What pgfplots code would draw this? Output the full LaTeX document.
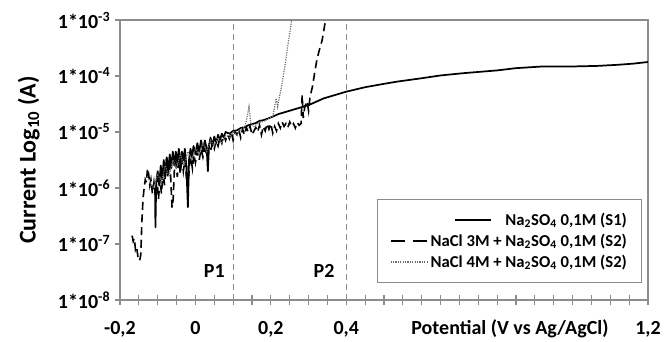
\documentclass[border=0pt]{standalone}
\usepackage{fontspec}
\setmainfont{Carlito}
\usepackage{pgfplots}
\pgfplotsset{compat=1.18}
\definecolor{axgray}{HTML}{8C8C8C}
\definecolor{dotgray}{HTML}{6E6E6E}
\begin{document}
\begin{tikzpicture}
\useasboundingbox (-90pt,-31.5pt) rectangle (408pt,225pt);
\begin{axis}[
 at={(0pt,0pt)}, anchor=south west,
 scale only axis, width=396pt, height=210pt,
 xmin=-0.2, xmax=1.2, ymin=-8, ymax=-3,
 clip=false,
 axis line style={axgray, line width=0.8pt},
 xtick={-0.2,0,0.2,0.4,0.6,0.8,1.0,1.2},
 xticklabels={{-0,2},{0},{0,2},{0,4},{},{},{},{1,2}},
 minor x tick num=3,
 xtick pos=bottom, ytick pos=left,
 tick align=center,
 major tick length=7.5pt, minor tick length=7.5pt,
 every tick/.style={axgray, line width=0.8pt},
 ytick=\empty,
 extra y ticks={-8,-7,-6,-5,-4,-3},
 extra y tick labels={{1*10\textsuperscript{-8}},{1*10\textsuperscript{-7}},{1*10\textsuperscript{-6}},{1*10\textsuperscript{-5}},{1*10\textsuperscript{-4}},{1*10\textsuperscript{-3}}},
 extra y tick style={tick align=outside, major tick length=3.75pt},
 ticklabel style={font=\fontsize{15}{18}\selectfont\bfseries},
 xticklabel style={anchor=base, yshift=-22.5pt},
 ylabel={Current Log\textsubscript{10} (A)},
 ylabel style={font=\fontsize{18}{21}\selectfont\bfseries, yshift=3pt},
 legend style={at={(rel axis cs:0.9886,0.3607)}, anchor=north east,
   draw=axgray, line width=0.6pt, inner xsep=9pt, inner ysep=8pt,
   font=\fontsize{12.5}{15}\selectfont\bfseries, row sep=1pt},
 legend cell align=right,
 legend image code/.code={\draw[#1] (0pt,0pt) -- (27.5pt,0pt);},
]
% reference vertical lines
\addplot[axgray, line width=0.8pt, dash pattern=on 4.5pt off 3pt, forget plot] coordinates {(0.1,-8) (0.1,-3)};
\addplot[axgray, line width=0.8pt, dash pattern=on 4.5pt off 3pt, forget plot] coordinates {(0.4,-8) (0.4,-3)};

% S1: Na2SO4 0,1M (log10 of current)
\addplot[black, line width=1.3pt, line join=round,
  legend image post style={xshift=48pt, overlay}] coordinates {
(-0.107,-6.0) (-0.106,-6.7) (-0.104,-5.9) (-0.100,-5.7) (-0.096,-5.95) (-0.092,-5.6)
(-0.088,-5.85) (-0.084,-5.5) (-0.080,-5.8) (-0.076,-5.45) (-0.072,-5.75) (-0.068,-5.4)
(-0.064,-5.65) (-0.060,-5.35) (-0.056,-5.6) (-0.052,-5.35) (-0.048,-5.55) (-0.044,-5.3)
(-0.040,-5.6) (-0.036,-5.35) (-0.032,-5.5) (-0.028,-5.3) (-0.024,-5.6) (-0.020,-6.34)
(-0.017,-5.5) (-0.013,-5.3) (-0.009,-5.45) (-0.005,-5.25) (0.000,-5.4) (0.005,-5.2)
(0.010,-5.35) (0.015,-5.15) (0.020,-5.35) (0.025,-5.15) (0.030,-5.3) (0.033,-5.7)
(0.036,-5.25) (0.040,-5.1) (0.045,-5.25) (0.050,-5.08) (0.055,-5.2) (0.060,-5.05)
(0.065,-5.15) (0.070,-5.03) (0.075,-5.1) (0.080,-5.0) (0.090,-5.03) (0.100,-4.98)
(0.110,-4.97) (0.120,-4.93) (0.130,-4.92) (0.140,-4.88) (0.150,-4.86) (0.160,-4.84)
(0.170,-4.80) (0.180,-4.79) (0.200,-4.74) (0.220,-4.68) (0.240,-4.64) (0.260,-4.60)
(0.280,-4.56) (0.300,-4.52) (0.320,-4.46) (0.340,-4.40) (0.360,-4.36) (0.380,-4.32)
(0.400,-4.28) (0.450,-4.20) (0.500,-4.14) (0.535,-4.10) (0.600,-4.04) (0.650,-3.99)
(0.710,-3.95) (0.800,-3.90) (0.850,-3.86) (0.920,-3.83) (1.000,-3.83) (1.065,-3.82)
(1.120,-3.80) (1.160,-3.78) (1.200,-3.75)
};
\addlegendentry{Na\textsubscript{2}SO\textsubscript{4} 0,1M (S1)}

% S2: NaCl 3M + Na2SO4 0,1M
\addplot[black, line width=1.2pt, dash pattern=on 6pt off 3.5pt,
  legend image post style={dash pattern=on 11pt off 5.5pt}] coordinates {
(-0.168,-6.85) (-0.165,-6.95) (-0.162,-6.9) (-0.159,-7.1) (-0.156,-7.05) (-0.152,-7.25)
(-0.148,-7.3) (-0.145,-7.2) (-0.142,-6.6) (-0.139,-6.2) (-0.136,-6.0) (-0.133,-5.85)
(-0.130,-5.9) (-0.127,-5.65) (-0.124,-5.75) (-0.121,-5.95) (-0.118,-5.85) (-0.114,-6.1)
(-0.110,-5.9) (-0.106,-6.15) (-0.102,-5.8) (-0.098,-6.2) (-0.094,-5.85) (-0.090,-6.1)
(-0.086,-5.7) (-0.082,-5.95) (-0.078,-5.6) (-0.074,-5.8) (-0.070,-5.55) (-0.066,-5.75)
(-0.062,-6.35) (-0.059,-6.2) (-0.056,-5.7) (-0.052,-5.55) (-0.048,-5.8) (-0.044,-5.5)
(-0.040,-5.75) (-0.036,-5.45) (-0.032,-5.7) (-0.028,-5.5) (-0.024,-5.8) (-0.020,-6.0)
(-0.016,-5.6) (-0.012,-5.45) (-0.008,-5.65) (-0.004,-5.4) (0.000,-5.55) (0.005,-5.35)
(0.010,-5.5) (0.015,-5.3) (0.020,-5.45) (0.025,-5.3) (0.030,-5.4) (0.035,-5.25)
(0.040,-5.35) (0.045,-5.2) (0.050,-5.3) (0.055,-5.15) (0.060,-5.25) (0.065,-5.1)
(0.070,-5.2) (0.075,-5.05) (0.080,-5.15) (0.085,-5.05) (0.090,-5.12) (0.095,-5.0)
(0.100,-5.15) (0.105,-5.0) (0.110,-5.05) (0.115,-4.95) (0.120,-5.1) (0.125,-4.95)
(0.130,-5.05) (0.135,-4.92) (0.140,-5.0) (0.145,-4.9) (0.150,-5.05) (0.160,-4.92)
(0.165,-5.0) (0.170,-4.88) (0.175,-5.05) (0.180,-4.9) (0.185,-4.98) (0.190,-4.85)
(0.195,-4.95) (0.200,-4.85) (0.205,-5.02) (0.210,-4.9) (0.215,-4.98) (0.220,-4.85)
(0.225,-4.93) (0.230,-4.82) (0.235,-4.9) (0.240,-4.85) (0.245,-4.92) (0.250,-4.82)
(0.255,-4.9) (0.260,-4.85) (0.265,-4.93) (0.270,-4.83) (0.275,-4.88) (0.280,-4.85)
(0.283,-4.34) (0.286,-4.75) (0.290,-4.55) (0.296,-4.45) (0.300,-4.62) (0.304,-4.37)
(0.310,-4.2) (0.316,-3.95) (0.322,-3.71) (0.328,-3.55) (0.336,-3.36) (0.340,-3.2)
(0.345,-3.0)
};
\addlegendentry{NaCl 3M + Na\textsubscript{2}SO\textsubscript{4} 0,1M (S2)}

% S2: NaCl 4M + Na2SO4 0,1M
\addplot[dotgray, line width=0.9pt, dash pattern=on 0.9pt off 0.9pt] coordinates {
(-0.12,-5.9) (-0.11,-6.0) (-0.10,-5.75) (-0.09,-5.9) (-0.08,-5.6) (-0.07,-5.8)
(-0.06,-5.5) (-0.05,-5.65) (-0.04,-5.4) (-0.03,-5.6) (-0.02,-5.35) (-0.01,-5.5)
(0.0,-5.3) (0.01,-5.4) (0.02,-5.2) (0.03,-5.35) (0.04,-5.15) (0.05,-5.25)
(0.06,-5.1) (0.07,-5.2) (0.08,-5.05) (0.09,-5.1) (0.10,-5.0) (0.11,-5.05)
(0.12,-4.95) (0.13,-4.92) (0.135,-4.8) (0.142,-4.55) (0.147,-4.85) (0.155,-4.9)
(0.165,-4.85) (0.175,-4.82) (0.185,-4.8) (0.195,-4.75) (0.205,-4.72) (0.210,-4.55)
(0.214,-4.4) (0.218,-4.55) (0.222,-4.4) (0.228,-4.2) (0.233,-4.0) (0.237,-3.84)
(0.242,-3.6) (0.246,-3.41) (0.251,-3.2) (0.255,-3.0)
};
\addlegendentry{NaCl 4M + Na\textsubscript{2}SO\textsubscript{4} 0,1M (S2)}

\node[font=\fontsize{15}{18}\selectfont\bfseries] at (axis cs:0.05,-7.49) {P1};
\node[font=\fontsize{15}{18}\selectfont\bfseries] at (axis cs:0.341,-7.49) {P2};
\node[font=\fontsize{15}{18}\selectfont\bfseries, anchor=base] at ([yshift=-26.25pt]axis cs:0.834,-8) {Potential (V vs Ag/AgCl)};
\end{axis}
\end{tikzpicture}
\end{document}
